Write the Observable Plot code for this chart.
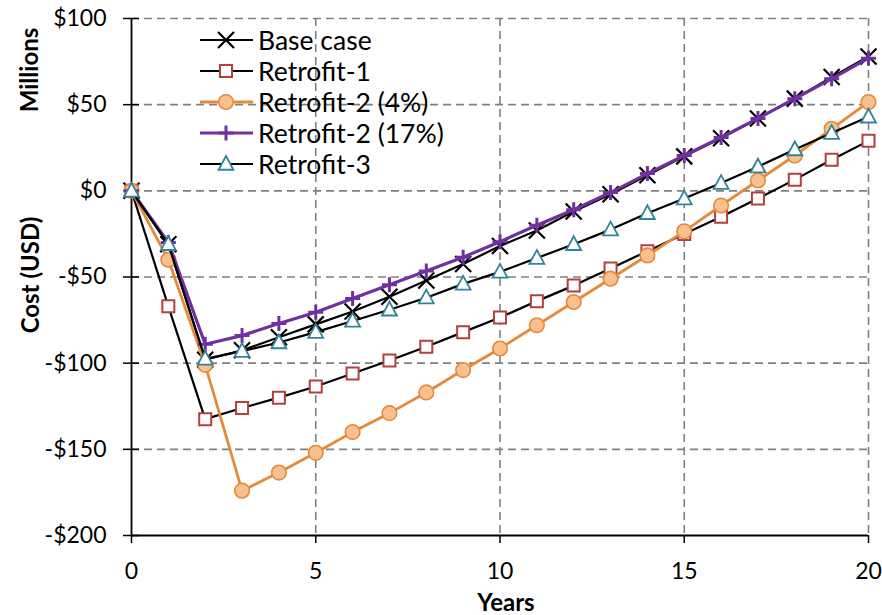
<!DOCTYPE html>
<html><head><meta charset="utf-8">
<script src="https://cdn.jsdelivr.net/npm/d3@7"></script>
<script src="https://cdn.jsdelivr.net/npm/@observablehq/plot@0.6"></script>
<style>
body{margin:0;background:#fff;}
#chart{position:relative;width:882px;height:615px;overflow:hidden;}
#chart svg{display:block;}
#chart svg g[aria-label="x-axis tick label"] text,
#chart svg g[aria-label="y-axis tick label"] text{font-size:23px;}
</style></head><body><div id="chart"></div>
<script>
// ---- data (millions USD) ----
const years = [0,1,2,3,4,5,6,7,8,9,10,11,12,13,14,15,16,17,18,19,20];
const baseCase   = [0,-31,-98,-92.5,-85,-77.5,-70,-61.5,-52,-42.5,-32,-23,-12,-2,9,20,30.5,42,53.5,66,78];
const retrofit1  = [0,-67,-132.5,-126,-120,-113.5,-106,-98.5,-90.5,-82,-73.5,-64,-55,-45,-35,-25,-15,-4.5,6.5,18,29];
const retrofit2a = [0,-40,-101,-174,-163.5,-152,-140,-129,-117,-104,-91.5,-78,-64.5,-51,-37.5,-23.5,-8.5,6,20.5,36,51.5];
const retrofit2b = [0,-30,-89,-84,-77,-70.5,-62.5,-54.5,-46.5,-38.5,-29.5,-20,-11,-1,10,20.5,31,42,53.5,65,77];
const retrofit3  = [0,-31,-97.5,-93,-88,-82,-75.5,-69,-62,-54,-47,-39,-31,-22.5,-13,-4.5,4.5,14,24,33.5,43];
const seriesNames = ["Base case","Retrofit-1","Retrofit-2 (4%)","Retrofit-2 (17%)","Retrofit-3"];
const seriesValues = [baseCase, retrofit1, retrofit2a, retrofit2b, retrofit3];
const xTicks = [0,5,10,15,20];
const yTicks = [-200,-150,-100,-50,0,50,100];

// ---- symbols ----
function sym(fn){ return {draw(ctx,size){ const r=Math.sqrt(size/Math.PI); fn(ctx,r);} }; }
const symX = sym((c,r)=>{c.moveTo(-r,-r);c.lineTo(r,r);c.moveTo(-r,r);c.lineTo(r,-r);});
const symSquare = sym((c,r)=>{c.rect(-r,-r,2*r,2*r);});
const symCircle = sym((c,r)=>{c.moveTo(r,0);c.arc(0,0,r,0,2*Math.PI);});
const symPlus = sym((c,r)=>{c.moveTo(-r,0);c.lineTo(r,0);c.moveTo(0,-r);c.lineTo(0,r);});
const symTri = sym((c,r)=>{c.moveTo(0,-r);c.lineTo(r*0.93,r*0.72);c.lineTo(-r*0.93,r*0.72);c.closePath();});

const styles = [
  {line:"#000", lw:2.2, symbol:symX,      r:8,   fill:"none",    stroke:"#000",    sw:2.2},
  {line:"#000", lw:2.2, symbol:symSquare, r:6,   fill:"#fff",    stroke:"#b0413e", sw:2},
  {line:"#e5893b", lw:2.8, symbol:symCircle, r:7.3, fill:"#f9c08f", stroke:"#e5893b", sw:1.6},
  {line:"#7030a0", lw:3.2, symbol:symPlus,   r:7.5, fill:"none",    stroke:"#7030a0", sw:3},
  {line:"#000", lw:2.2, symbol:symTri,    r:8,   fill:"#fff",    stroke:"#31849b", sw:1.8}
];

const rows = seriesNames.map((name,i)=>years.map((yr,j)=>({series:name, year:yr, value:seriesValues[i][j]})));

const fmt = d => (d<0?"-":"") + "$" + Math.abs(d);
const FONT = "Lato, 'Open Sans', sans-serif";

const seriesMarks = [];
rows.forEach((data,i)=>{
  const s = styles[i];
  seriesMarks.push(Plot.line(data,{x:"year",y:"value",stroke:s.line,strokeWidth:s.lw}));
  seriesMarks.push(Plot.dot(data,{x:"year",y:"value",symbol:()=>s.symbol,r:s.r,fill:s.fill,stroke:s.stroke,strokeWidth:s.sw}));
});

const gridStyle = {stroke:"#808080", strokeOpacity:1, strokeDasharray:"8,5", strokeWidth:1.6};

const plot = Plot.plot({
  width:882, height:615,
  marginLeft:131, marginRight:14, marginTop:18, marginBottom:80,
  x:{domain:[0,20]},
  y:{domain:[-200,100]},
  symbol:{type:"identity"},
  style:{fontFamily:FONT, fontSize:"23px", color:"#000", background:"#fff", overflow:"visible"},
  marks:[
    Plot.gridX(xTicks.slice(1), gridStyle),
    Plot.gridY(yTicks.slice(1), gridStyle),
    Plot.axisX(xTicks,{tickSize:8, tickPadding:19, label:null, stroke:"#000", strokeWidth:1.5}),
    Plot.axisY(yTicks,{tickSize:8, tickPadding:17, tickFormat:fmt, label:null, stroke:"#000", strokeWidth:1.5}),
    Plot.axisY(yTicks,{tickSize:-8, tickFormat:()=>"", label:null, stroke:"#000", strokeWidth:1.5}),
    Plot.ruleX([0],{stroke:"#000", strokeWidth:1.8}),
    Plot.ruleY([-200],{stroke:"#000", strokeWidth:1.8}),
    ...seriesMarks
  ]
});
document.getElementById("chart").appendChild(plot);

// axis titles
const svg = d3.select(plot);
svg.append("text").attr("transform","translate(28,70) rotate(-90)")
  .attr("text-anchor","middle").attr("dominant-baseline","central")
  .style("font-family",FONT).style("font-weight","bold").style("font-size","24px").text("Millions");
svg.append("text").attr("transform","translate(29,275) rotate(-90)")
  .attr("text-anchor","middle").attr("dominant-baseline","central")
  .style("font-family",FONT).style("font-weight","bold").style("font-size","24px").text("Cost (USD)");
svg.append("text").attr("x",506).attr("y",611)
  .attr("text-anchor","middle")
  .style("font-family",FONT).style("font-weight","bold").style("font-size","24px").text("Years");

// legend
const lg = svg.append("g").attr("transform","translate(200,40)");
seriesNames.forEach((name,i)=>{
  const s = styles[i];
  const g = lg.append("g").attr("transform",`translate(0,${i*31})`);
  g.append("line").attr("x1",0).attr("x2",53).attr("y1",0).attr("y2",0)
    .attr("stroke",s.line).attr("stroke-width",s.lw);
  g.append("path").attr("transform","translate(26,0)")
    .attr("d", d3.symbol(s.symbol, Math.PI*s.r*s.r)())
    .attr("fill",s.fill).attr("stroke",s.stroke).attr("stroke-width",s.sw);
  g.append("text").attr("x",58).attr("y",0).attr("dominant-baseline","central")
    .attr("text-anchor","start")
    .style("font-family",FONT).style("font-size","26.5px").text(name);
});
</script></body></html>
